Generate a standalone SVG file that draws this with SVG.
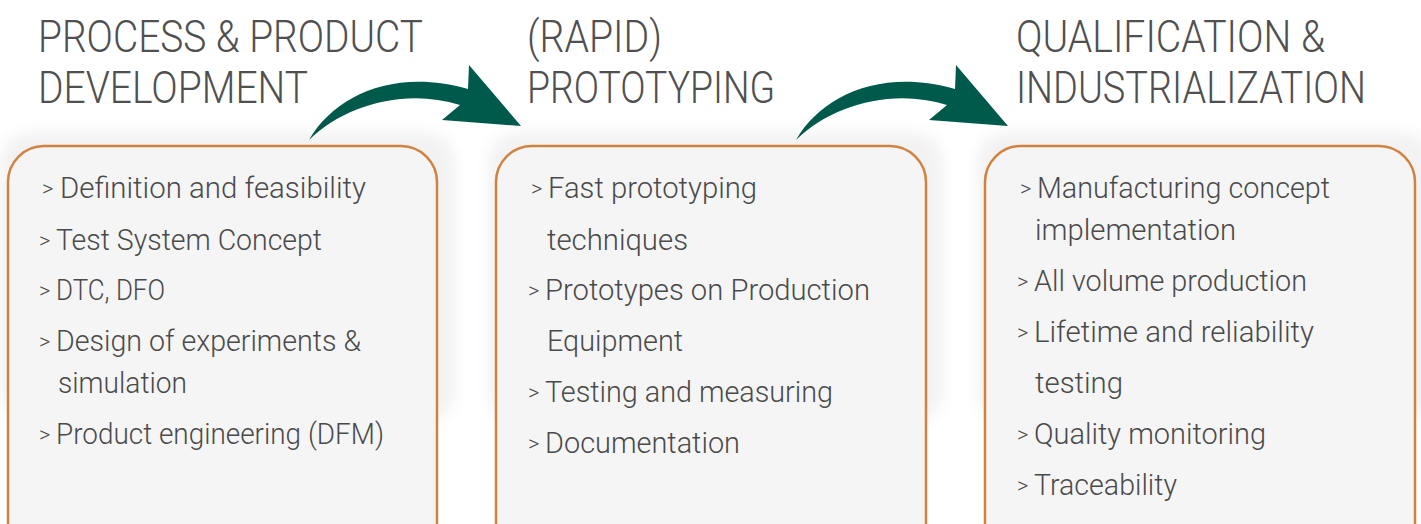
<svg xmlns="http://www.w3.org/2000/svg" width="1421" height="524" viewBox="0 0 1421 524">
<defs>
<filter id="sh" x="-20%" y="-20%" width="140%" height="140%"><feGaussianBlur stdDeviation="8"/></filter>
<path id="arrow" d="M309,140 C 335,95 395,68 468,89 L469,65 L521,126 L442,120 L460,105 C 405,88 345,105 309,140 Z"/>
</defs>
<style>
.h{font-family:Roboto,"Liberation Sans",sans-serif;font-weight:300;font-size:44px;fill:#505050}
.t{font-family:Roboto,"Liberation Sans",sans-serif;font-weight:300;font-size:30px;fill:#4a4a4a}
.b{font-family:Roboto,"Liberation Sans",sans-serif;font-weight:300;font-size:22px;fill:#4a4a4a}
.box{fill:#f5f5f5;stroke:#d2823f;stroke-width:2.5}
.shadow{fill:#000;opacity:0.05}
.arr{fill:#005a4b}
</style>
<rect width="1421" height="524" fill="#ffffff"/>
<g id="headings">
<text class="h" x="38" y="52" textLength="385" lengthAdjust="spacingAndGlyphs">PROCESS &amp; PRODUCT</text>
<text class="h" x="38" y="103" textLength="270" lengthAdjust="spacingAndGlyphs">DEVELOPMENT</text>
<text class="h" x="527" y="52" textLength="135" lengthAdjust="spacingAndGlyphs">(RAPID)</text>
<text class="h" x="527" y="103" textLength="248" lengthAdjust="spacingAndGlyphs">PROTOTYPING</text>
<text class="h" x="1016" y="52" textLength="309" lengthAdjust="spacingAndGlyphs">QUALIFICATION &amp;</text>
<text class="h" x="1016" y="103" textLength="350" lengthAdjust="spacingAndGlyphs">INDUSTRIALIZATION</text>
</g>
<g id="connectors">
<use href="#arrow" class="arr"/>
<use href="#arrow" class="arr" transform="translate(487,0)"/>
</g>
<g id="box1">
<rect class="shadow" x="0" y="132" width="455" height="290" rx="30" filter="url(#sh)"/>
<rect class="box" x="8" y="146" width="429" height="420" rx="36"/>
<text class="b" x="42" y="196">&gt;</text>
<text class="t" x="60" y="198" textLength="306" lengthAdjust="spacingAndGlyphs">Definition and feasibility</text>
<text class="b" x="39" y="248">&gt;</text>
<text class="t" x="56" y="250" textLength="266" lengthAdjust="spacingAndGlyphs">Test System Concept</text>
<text class="b" x="39" y="298">&gt;</text>
<text class="t" x="56" y="300" textLength="109" lengthAdjust="spacingAndGlyphs">DTC, DFO</text>
<text class="b" x="39" y="349">&gt;</text>
<text class="t" x="56" y="351" textLength="305" lengthAdjust="spacingAndGlyphs">Design of experiments &amp;</text>
<text class="t" x="58" y="393" textLength="129" lengthAdjust="spacingAndGlyphs">simulation</text>
<text class="b" x="39" y="442">&gt;</text>
<text class="t" x="56" y="444" textLength="328" lengthAdjust="spacingAndGlyphs">Product engineering (DFM)</text>
</g>
<g id="box2">
<rect class="shadow" x="488" y="132" width="455" height="290" rx="30" filter="url(#sh)"/>
<rect class="box" x="496" y="146" width="430" height="420" rx="36"/>
<text class="b" x="531" y="196">&gt;</text>
<text class="t" x="548" y="198" textLength="209" lengthAdjust="spacingAndGlyphs">Fast prototyping</text>
<text class="t" x="547" y="250" textLength="141" lengthAdjust="spacingAndGlyphs">techniques</text>
<text class="b" x="528" y="298">&gt;</text>
<text class="t" x="545" y="300" textLength="325" lengthAdjust="spacingAndGlyphs">Prototypes on Production</text>
<text class="t" x="547" y="351" textLength="136" lengthAdjust="spacingAndGlyphs">Equipment</text>
<text class="b" x="528" y="400">&gt;</text>
<text class="t" x="545" y="402" textLength="288" lengthAdjust="spacingAndGlyphs">Testing and measuring</text>
<text class="b" x="528" y="451">&gt;</text>
<text class="t" x="545" y="453" textLength="195" lengthAdjust="spacingAndGlyphs">Documentation</text>
</g>
<g id="box3">
<rect class="shadow" x="977" y="132" width="455" height="290" rx="30" filter="url(#sh)"/>
<rect class="box" x="985" y="146" width="430" height="420" rx="36"/>
<text class="b" x="1020" y="196">&gt;</text>
<text class="t" x="1037" y="198" textLength="293" lengthAdjust="spacingAndGlyphs">Manufacturing concept</text>
<text class="t" x="1035" y="240" textLength="201" lengthAdjust="spacingAndGlyphs">implementation</text>
<text class="b" x="1017" y="289">&gt;</text>
<text class="t" x="1034" y="291" textLength="273" lengthAdjust="spacingAndGlyphs">All volume production</text>
<text class="b" x="1017" y="340">&gt;</text>
<text class="t" x="1034" y="342" textLength="280" lengthAdjust="spacingAndGlyphs">Lifetime and reliability</text>
<text class="t" x="1035" y="393" textLength="88" lengthAdjust="spacingAndGlyphs">testing</text>
<text class="b" x="1017" y="442">&gt;</text>
<text class="t" x="1034" y="444" textLength="232" lengthAdjust="spacingAndGlyphs">Quality monitoring</text>
<text class="b" x="1017" y="493">&gt;</text>
<text class="t" x="1034" y="495" textLength="143" lengthAdjust="spacingAndGlyphs">Traceability</text>
</g>
</svg>
